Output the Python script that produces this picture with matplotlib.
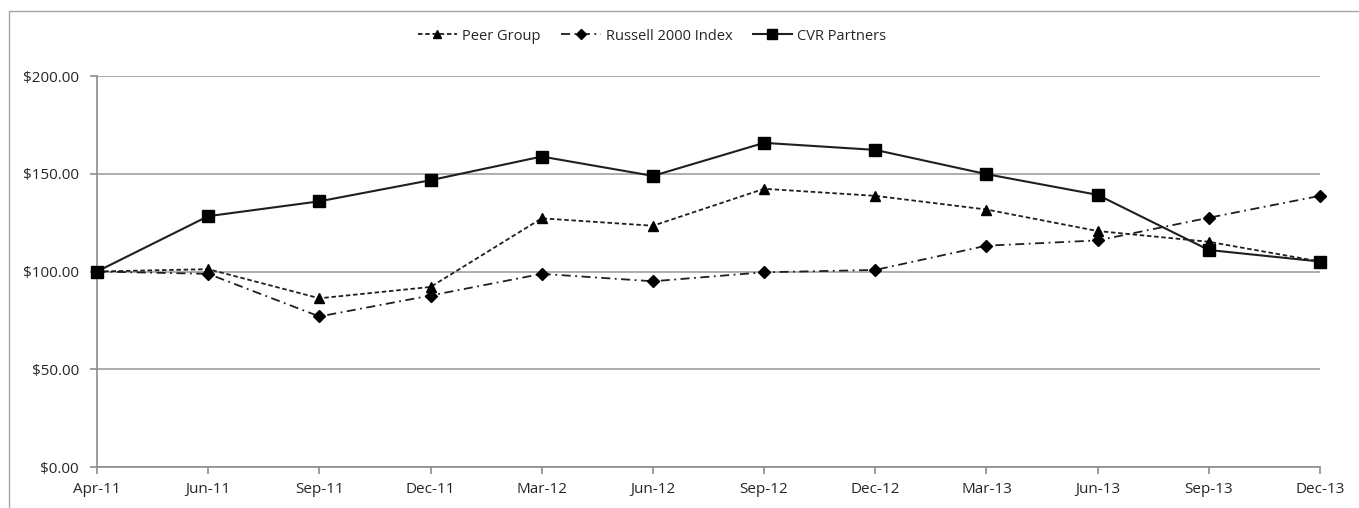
import numpy as np
import matplotlib.pyplot as plt
from matplotlib.patches import Rectangle

quarters = ["Apr-11", "Jun-11", "Sep-11", "Dec-11", "Mar-12", "Jun-12",
            "Sep-12", "Dec-12", "Mar-13", "Jun-13", "Sep-13", "Dec-13"]
peer_group = [100.0, 101.2, 86.3, 92.1, 127.2, 123.4, 142.3, 138.7, 131.7, 120.7, 115.2, 105.1]
russell_2000 = [100.0, 98.8, 77.0, 87.7, 98.8, 95.0, 99.6, 100.8, 113.2, 115.9, 127.5, 138.7]
cvr_partners = [100.0, 128.3, 135.9, 146.7, 158.8, 148.9, 165.8, 162.2, 149.8, 139.2, 111.0, 105.1]

plt.rcParams['font.family'] = ['Open Sans', 'DejaVu Sans']

fig = plt.figure(figsize=(13.59, 5.08), dpi=100)
# outer chart border (right and bottom edges run off the picture)
fig.patches.append(Rectangle((9/1359, -0.1), 1.2, 1.1 - 11/508, transform=fig.transFigure,
                             fill=False, edgecolor="#a6a6a6", linewidth=1.0))
ax = fig.add_axes([97/1359, 1-467/508, (1320-97)/1359, (467-76)/508])

x = np.arange(len(quarters))
ax.plot(x, peer_group, linestyle=(0, (2.5, 1.5)), color="#1f1f1f", linewidth=1.3,
        marker="^", markersize=7, markerfacecolor="black", markeredgecolor="black",
        label="Peer Group", clip_on=False, zorder=3)
ax.plot(x, russell_2000, linestyle=(0, (5, 2.5, 1, 2.5)), color="#1f1f1f", linewidth=1.3,
        marker="D", markersize=6, markerfacecolor="black", markeredgecolor="black",
        label="Russell 2000 Index", clip_on=False, zorder=3)
ax.plot(x, cvr_partners, linestyle="-", color="#1f1f1f", linewidth=1.5,
        marker="s", markersize=8, markerfacecolor="black", markeredgecolor="black",
        label="CVR Partners", clip_on=False, zorder=4)

ax.set_xlim(0, len(quarters) - 1)
ax.set_ylim(0, 200)
ax.set_xticks(x)
ax.set_xticklabels(quarters)
ax.set_yticks([0, 50, 100, 150, 200])
ax.set_yticklabels(["$%.2f" % v for v in [0, 50, 100, 150, 200]])
ax.yaxis.grid(True, color="#a0a0a0", linewidth=1.2)
ax.set_axisbelow(True)
for s in ["top", "right"]:
    ax.spines[s].set_visible(False)
for s in ["left", "bottom"]:
    ax.spines[s].set_color("#8c8c8c")
    ax.spines[s].set_linewidth(1.2)
ax.tick_params(axis="both", colors="#8c8c8c", length=5, width=1.2, labelcolor="#262626",
               labelsize=11)
ax.tick_params(axis="x", pad=6)
ax.tick_params(axis="y", pad=8)

leg = fig.legend(loc="center", bbox_to_anchor=(652/1359, 1-36/508), ncol=3, frameon=False,
                 fontsize=10.5, handlelength=2.7, columnspacing=1.4, handletextpad=0.35,
                 markerscale=0.85)
for t in leg.get_texts():
    t.set_color("#262626")

fig.savefig("out.png", dpi=100)
